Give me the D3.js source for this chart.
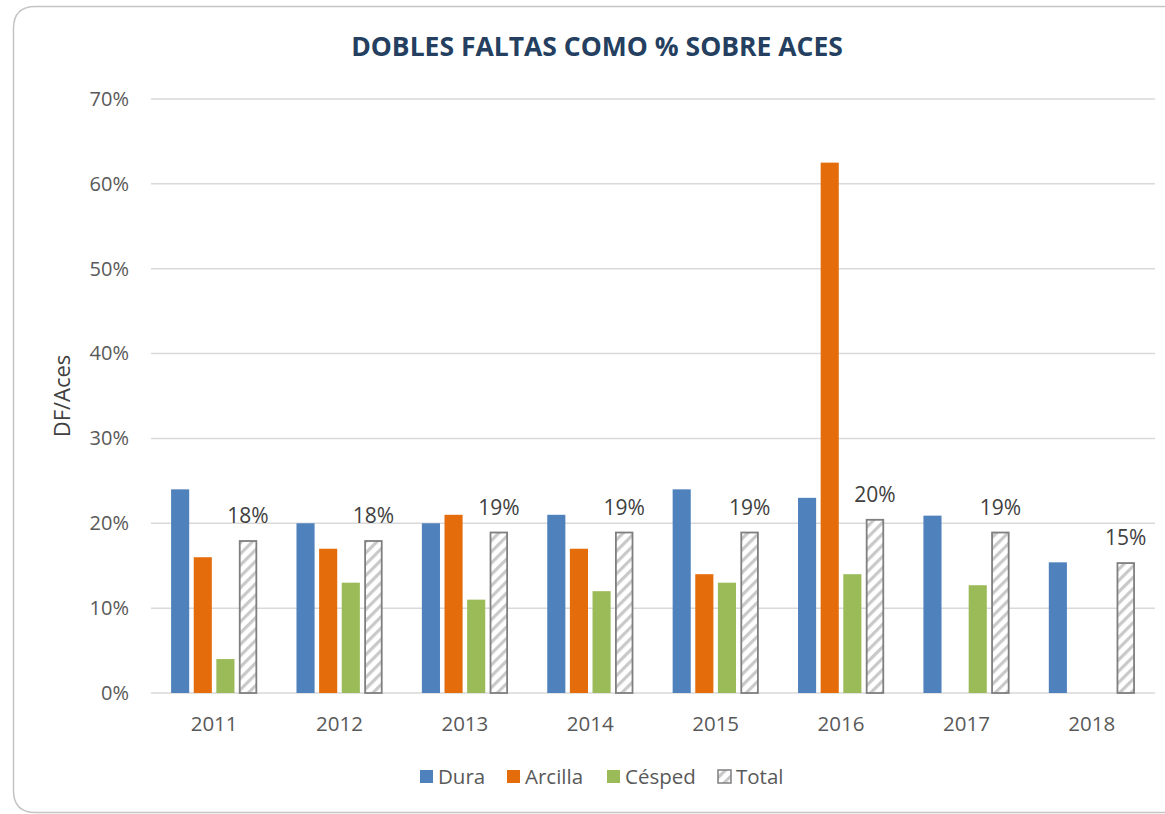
<!DOCTYPE html>
<html><head><meta charset="utf-8">
<script src="https://cdn.jsdelivr.net/npm/d3@7"></script>
<style>html,body{margin:0;padding:0;background:#fff;overflow:hidden;} svg{display:block;} text{font-family:"Open Sans",sans-serif;}</style>
</head><body>
<svg id="c" width="1165" height="814"></svg>
<script>
const years = ["2011","2012","2013","2014","2015","2016","2017","2018"];
const seriesNames = ["Dura","Arcilla","Césped","Total"];
const dura    = [0.24, 0.20, 0.20, 0.21, 0.24, 0.23, 0.209, 0.154];
const arcilla = [0.16, 0.17, 0.21, 0.17, 0.14, 0.625, null, null];
const cesped  = [0.04, 0.13, 0.11, 0.12, 0.13, 0.14, 0.127, null];
const total   = [0.18, 0.18, 0.19, 0.19, 0.19, 0.205, 0.19, 0.154];
const totalLabels = ["18%","18%","19%","19%","19%","20%","19%","15%"];
const yTicks = [0,0.1,0.2,0.3,0.4,0.5,0.6,0.7];
const colors = {"Dura":"#4F81BD","Arcilla":"#E46C0A","Césped":"#9BBB59"};

const svg = d3.select("#c");
const defs = svg.append("defs");
const pat = defs.append("pattern").attr("id","hatch").attr("patternUnits","userSpaceOnUse")
  .attr("width",8).attr("height",8).attr("patternTransform","rotate(45)");
pat.append("rect").attr("width",8).attr("height",8).attr("fill","#fff");
pat.append("rect").attr("x",0).attr("y",0).attr("width",3.2).attr("height",8).attr("fill","#c9c9c9");

// frame (right side lies outside the picture)
svg.append("path")
  .attr("d","M1190,6.5 L35.5,6.5 Q13.5,6.5 13.5,28.5 L13.5,790.5 Q13.5,812.5 35.5,812.5 L1190,812.5")
  .attr("fill","#fff").attr("stroke","#c4c4c4").attr("stroke-width",1.5);

const y = d3.scaleLinear().domain([0,0.7]).range([693,99]);
const x0 = d3.scaleBand().domain(years).range([151.4,1154.5]).padding(0);
const groupW = 86;
const x1 = d3.scaleBand().domain(seriesNames).range([0,groupW]).paddingInner(0.2);
const off = (x0.bandwidth()-groupW)/2;

// gridlines
svg.append("g").selectAll("line").data(yTicks).join("line")
  .attr("x1",151).attr("x2",1155).attr("y1",d=>y(d)).attr("y2",d=>y(d))
  .attr("stroke","#d9d9d9").attr("stroke-width",1.5);

// y axis labels
const yAxis = svg.append("g").attr("transform","translate(129,0)")
  .call(d3.axisLeft(y).tickValues(yTicks).tickFormat(d3.format(".0%")).tickSize(0).tickPadding(0));
yAxis.select(".domain").remove();
yAxis.selectAll("text").attr("font-size",20).attr("fill","#595959").attr("font-family","Open Sans");

// x axis labels
const xAxis = svg.append("g").attr("transform","translate(0,693)")
  .call(d3.axisBottom(x0).tickSize(0).tickPadding(23));
xAxis.select(".domain").remove();
xAxis.selectAll("text").attr("font-size",20.5).attr("fill","#595959").attr("font-family","Open Sans");

const data = {"Dura":dura,"Arcilla":arcilla,"Césped":cesped,"Total":total};
seriesNames.forEach(s=>{
  const vals = years.map((yr,i)=>({yr,v:data[s][i]})).filter(d=>d.v!=null);
  const g = svg.append("g");
  g.selectAll("rect").data(vals).join("rect")
    .attr("x",d=>x0(d.yr)+off+x1(s)+(s==="Total"?0.75:0))
    .attr("y",d=>y(d.v)+(s==="Total"?0.75:0))
    .attr("width",x1.bandwidth()-(s==="Total"?1.5:0))
    .attr("height",d=>y(0)-y(d.v)-(s==="Total"?0.75:0))
    .attr("fill",s==="Total"?"url(#hatch)":colors[s])
    .attr("stroke",s==="Total"?"#7f7f7f":"none")
    .attr("stroke-width",s==="Total"?1.8:0);
});

// Total labels
svg.append("g").selectAll("text").data(years).join("text")
  .attr("x",(d)=>x0(d)+off+x1("Total")+x1.bandwidth()/2)
  .attr("y",(d,i)=>y(total[i])-17)
  .attr("text-anchor","middle").attr("font-size",21).attr("fill","#404040")
  .text((d,i)=>totalLabels[i]);

// title
svg.append("text").attr("x",597).attr("y",56).attr("text-anchor","middle")
  .attr("font-size",26.5).attr("font-weight","bold").attr("fill","#243F60")
  .text("DOBLES FALTAS COMO % SOBRE ACES");

// y title
svg.append("text").attr("transform","translate(70,396) rotate(-90)")
  .attr("text-anchor","middle").attr("font-size",22).attr("fill","#404040").text("DF/Aces");

// legend
const legX = [420,507,607,718];
const lg = svg.append("g");
seriesNames.forEach((s,i)=>{
  lg.append("rect").attr("x",legX[i]).attr("y",770).attr("width",13).attr("height",13)
    .attr("fill",s==="Total"?"url(#hatch)":colors[s])
    .attr("stroke",s==="Total"?"#7f7f7f":"none").attr("stroke-width",1.5);
  lg.append("text").attr("x",legX[i]+18).attr("y",784).attr("font-size",20.5)
    .attr("fill","#595959").text(s);
});
</script>
</body></html>
